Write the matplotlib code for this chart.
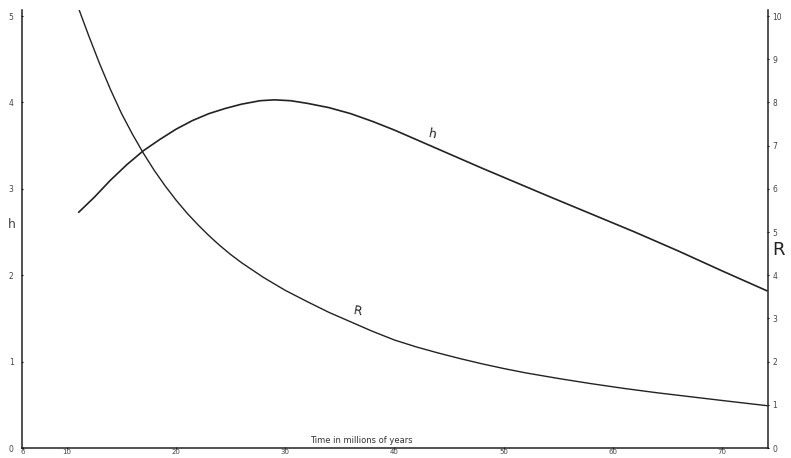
import matplotlib
matplotlib.use("Agg")
import matplotlib.pyplot as plt

# h curve (left axis)
h_time = [11.1, 12.5, 14.0, 15.5, 17.0, 18.5, 20.0, 21.5, 23.0, 24.5, 26.0, 27.7,
          29.0, 30.5, 32.0, 34.0, 36.0, 38.0, 40.0, 42.0, 44.0, 46.0, 48.0, 51.0,
          54.0, 58.0, 62.0, 66.0, 70.0, 74.1]
h_vals = [2.73, 2.90, 3.10, 3.28, 3.44, 3.57, 3.69, 3.79, 3.87, 3.93, 3.98, 4.02,
          4.03, 4.02, 3.99, 3.94, 3.87, 3.78, 3.68, 3.57, 3.46, 3.35, 3.24, 3.08,
          2.92, 2.71, 2.50, 2.28, 2.05, 1.82]

# R curve (right axis)
r_time = [10.9, 12.0, 13.0, 14.0, 15.0, 16.0, 17.0, 18.0, 19.0, 20.0, 21.0, 22.0,
          23.0, 24.0, 25.0, 26.0, 28.0, 30.0, 32.0, 34.0, 36.0, 38.0, 40.0, 42.0,
          44.0, 46.0, 48.0, 50.0, 52.0, 55.0, 58.0, 61.0, 64.0, 67.0, 70.0, 74.1]
r_vals = [10.3, 9.55, 8.90, 8.30, 7.75, 7.27, 6.83, 6.43, 6.07, 5.74, 5.44, 5.17,
          4.92, 4.69, 4.48, 4.29, 3.95, 3.65, 3.39, 3.14, 2.92, 2.70, 2.50, 2.34,
          2.20, 2.07, 1.95, 1.84, 1.74, 1.61, 1.49, 1.38, 1.28, 1.19, 1.10, 0.98]

x_ticks = [6, 10, 20, 30, 40, 50, 60, 70]
left_ticks = [0, 1, 2, 3, 4, 5]
right_ticks = [0, 1, 2, 3, 4, 5, 6, 7, 8, 9, 10]

fig = plt.figure(figsize=(7.91, 4.58), dpi=100)
ax = fig.add_axes([22 / 791, 10 / 458, (768 - 22) / 791, (448 - 10) / 458])
ax2 = ax.twinx()

ax.plot(h_time, h_vals, color="#222222", lw=1.2, solid_joinstyle="round")
ax2.plot(r_time, r_vals, color="#222222", lw=1.0, solid_joinstyle="round")

ax.set_xlim(5.9, 74.2)
ax.set_ylim(0, 5.07)
ax2.set_ylim(0, 10.14)

for a in (ax, ax2):
    a.spines["top"].set_visible(False)
    for s in ("left", "right", "bottom"):
        a.spines[s].set_color("#222222")
        a.spines[s].set_linewidth(1.1)

ax.spines["right"].set_visible(False)
ax2.spines["left"].set_visible(False)
ax2.spines["bottom"].set_visible(False)

ax.set_xticks(x_ticks)
ax.set_xticklabels([str(t) for t in x_ticks], fontsize=5, color="#444444")
ax.set_yticks(left_ticks)
ax.set_yticklabels([str(t) for t in left_ticks], fontsize=5.5, color="#444444")
ax2.set_yticks(right_ticks)
ax2.set_yticklabels([str(t) for t in right_ticks], fontsize=5.5, color="#444444")
ax.tick_params(axis="x", length=2, pad=0, direction="inout")
ax.tick_params(axis="y", length=2, pad=5, direction="inout")
ax2.tick_params(axis="y", length=2, pad=2, direction="inout")

ax.text(37, 0.04, "Time in millions of years", fontsize=6, color="#333333",
        ha="center", va="bottom")
ax.text(43.5, 3.55, "h", fontsize=9, color="#222222", ha="center", va="bottom",
        rotation=-12)
ax2.text(36.6, 3.0, "R", fontsize=9, color="#222222", ha="center", va="bottom",
         rotation=-10)

fig.text(12 / 791, 1 - 225 / 458, "h", fontsize=9, color="#444444",
         ha="center", va="center")
fig.text(779 / 791, 1 - 250 / 458, "R", fontsize=13, color="#222222",
         ha="center", va="center")

fig.savefig("out.png", dpi=100)
